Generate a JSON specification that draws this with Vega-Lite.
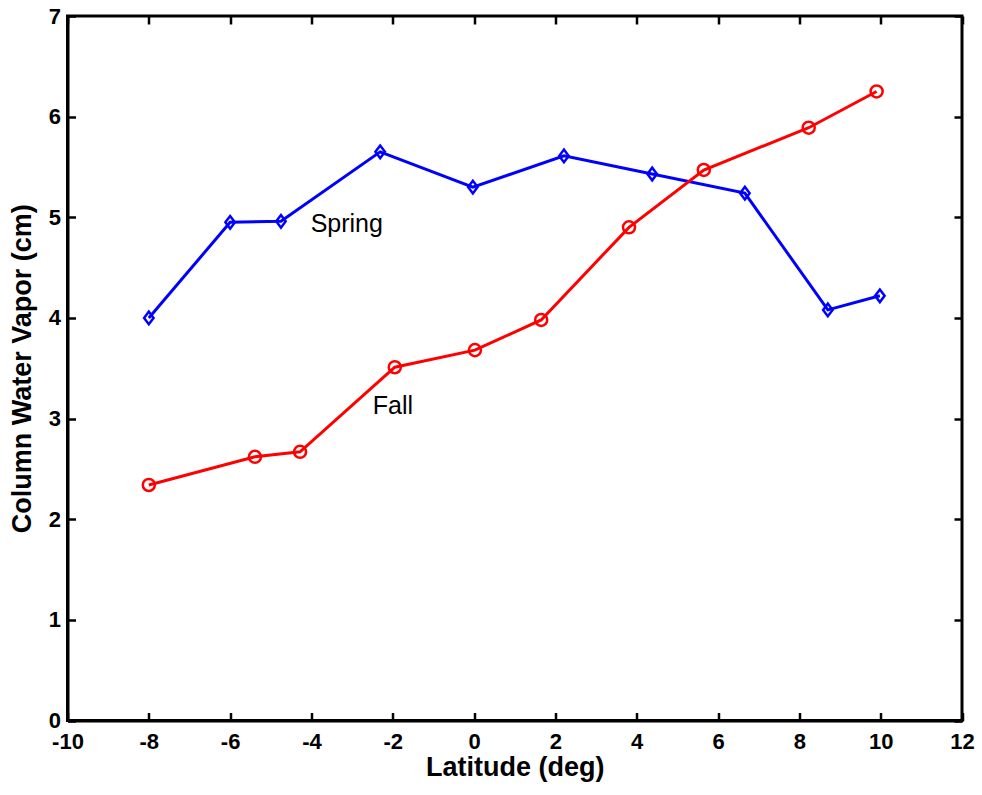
{
  "$schema": "https://vega.github.io/schema/vega-lite/v6.json",
  "width": 894.5,
  "height": 704.5,
  "autosize": {"type": "none"},
  "padding": {"left": 67.5, "top": 16, "right": 20, "bottom": 74.5},
  "background": "white",
  "config": {
    "font": "Liberation Sans",
    "view": {"stroke": "black", "strokeWidth": 3}
  },
  "datasets": {
    "series": [
      {"season": "Spring", "lat": -8.0, "cwv": 4.00},
      {"season": "Spring", "lat": -6.0, "cwv": 4.95},
      {"season": "Spring", "lat": -4.75, "cwv": 4.96},
      {"season": "Spring", "lat": -2.31, "cwv": 5.65},
      {"season": "Spring", "lat": -0.03, "cwv": 5.30},
      {"season": "Spring", "lat": 2.21, "cwv": 5.61},
      {"season": "Spring", "lat": 4.38, "cwv": 5.43},
      {"season": "Spring", "lat": 6.66, "cwv": 5.24},
      {"season": "Spring", "lat": 8.70, "cwv": 4.08},
      {"season": "Spring", "lat": 9.98, "cwv": 4.22},
      {"season": "Fall", "lat": -8.0, "cwv": 2.34},
      {"season": "Fall", "lat": -5.39, "cwv": 2.62},
      {"season": "Fall", "lat": -4.28, "cwv": 2.67},
      {"season": "Fall", "lat": -1.95, "cwv": 3.51},
      {"season": "Fall", "lat": 0.02, "cwv": 3.68},
      {"season": "Fall", "lat": 1.65, "cwv": 3.98},
      {"season": "Fall", "lat": 3.81, "cwv": 4.90},
      {"season": "Fall", "lat": 5.65, "cwv": 5.47},
      {"season": "Fall", "lat": 8.23, "cwv": 5.89},
      {"season": "Fall", "lat": 9.90, "cwv": 6.25}
    ],
    "labels": [
      {"text": "Spring", "lat": -4.02, "cwv": 4.857},
      {"text": "Fall", "lat": -2.49, "cwv": 3.05}
    ]
  },
  "layer": [
    {
      "data": {"name": "series"},
      "mark": {"type": "line", "strokeWidth": 3},
      "encoding": {
        "x": {
          "field": "lat", "type": "quantitative",
          "scale": {"domain": [-10, 12], "nice": false, "zero": false},
          "axis": {
            "orient": "bottom", "values": [-10, -8, -6, -4, -2, 0, 2, 4, 6, 8, 10, 12],
            "labelExpr": "toString(datum.value)",
            "grid": false, "domainColor": "black", "domainWidth": 3,
            "tickColor": "black", "tickWidth": 2.5, "tickSize": -8,
            "labelFont": "Liberation Sans", "labelFontWeight": "bold", "labelFontSize": 22, "labelColor": "black",
            "labelPadding": 19, "labelFlush": false, "labelOverlap": false,
            "title": "Latitude (deg)", "titleFont": "Liberation Sans", "titleFontWeight": "bold", "titleFontSize": 27, "titleColor": "black",
            "titlePadding": 2
          }
        },
        "y": {
          "field": "cwv", "type": "quantitative",
          "scale": {"domain": [0, 7], "nice": false},
          "axis": {
            "orient": "left", "values": [0, 1, 2, 3, 4, 5, 6, 7],
            "grid": false, "domainColor": "black", "domainWidth": 3,
            "tickColor": "black", "tickWidth": 2.5, "tickSize": -8,
            "labelFont": "Liberation Sans", "labelFontWeight": "bold", "labelFontSize": 22, "labelColor": "black",
            "labelPadding": 15, "labelFlush": false, "labelOverlap": false,
            "title": "Column Water Vapor (cm)", "titleFont": "Liberation Sans", "titleFontWeight": "bold", "titleFontSize": 27, "titleColor": "black",
            "titlePadding": 12
          }
        },
        "color": {
          "field": "season", "type": "nominal",
          "scale": {"domain": ["Spring", "Fall"], "range": ["#0000ff", "#ff0000"]},
          "legend": null
        }
      }
    },
    {
      "data": {"name": "series"},
      "mark": {"type": "point", "filled": false, "strokeWidth": 2.5, "opacity": 1},
      "encoding": {
        "x": {"field": "lat", "type": "quantitative", "axis": null},
        "y": {"field": "cwv", "type": "quantitative", "axis": null},
        "color": {"field": "season", "type": "nominal", "legend": null},
        "shape": {
          "field": "season", "type": "nominal",
          "scale": {"domain": ["Spring", "Fall"], "range": ["M -0.75 0 L 0 -1 L 0.75 0 L 0 1 Z", "circle"]},
          "legend": null
        },
        "size": {
          "field": "season", "type": "nominal",
          "scale": {"domain": ["Spring", "Fall"], "range": [160, 145]},
          "legend": null
        }
      }
    },
    {
      "data": {"name": "labels"},
      "mark": {"type": "text", "align": "left", "baseline": "alphabetic", "fontSize": 25, "font": "Liberation Sans", "color": "black"},
      "encoding": {
        "x": {"field": "lat", "type": "quantitative", "axis": null},
        "y": {"field": "cwv", "type": "quantitative", "axis": null},
        "text": {"field": "text"}
      }
    },
    {
      "data": {"name": "series"},
      "mark": {"type": "point", "opacity": 0},
      "encoding": {
        "x": {"field": "lat", "type": "quantitative", "axis": {"orient": "top", "values": [-10, -8, -6, -4, -2, 0, 2, 4, 6, 8, 10, 12], "labels": false, "title": null, "domain": false, "grid": false, "tickColor": "black", "tickWidth": 2.5, "tickSize": -8}},
        "y": {"field": "cwv", "type": "quantitative", "axis": {"orient": "right", "values": [0, 1, 2, 3, 4, 5, 6, 7], "labels": false, "title": null, "domain": false, "grid": false, "tickColor": "black", "tickWidth": 2.5, "tickSize": -8}}
      }
    }
  ],
  "resolve": {"axis": {"x": "independent", "y": "independent"}}
}
